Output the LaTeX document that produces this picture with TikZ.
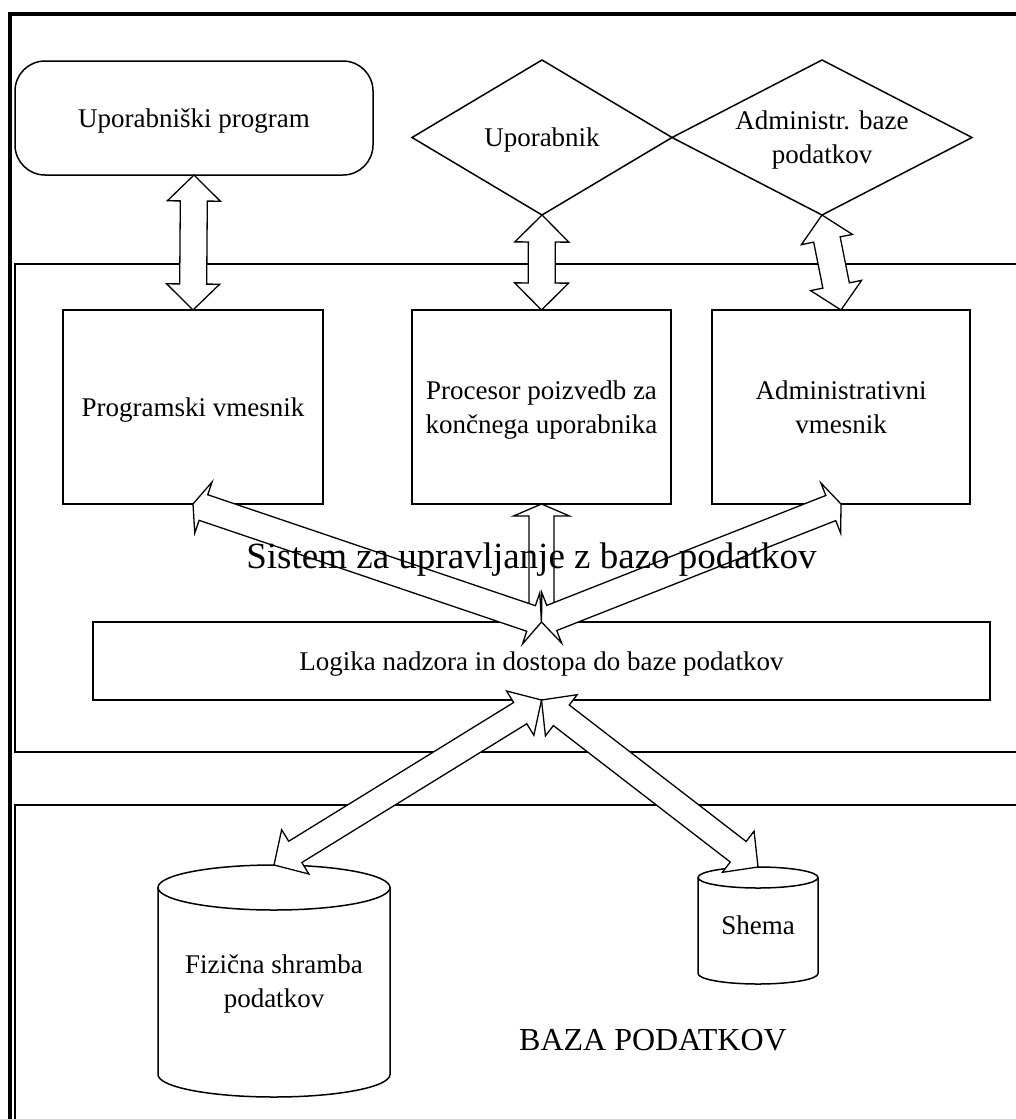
\documentclass[tikz,border=0pt]{standalone}
\usepackage{fontspec}
\setmainfont{Liberation Serif}
\usetikzlibrary{calc,shapes.geometric}

\newcommand{\txtnorm}{\fontsize{27}{34}\selectfont}
\newcommand{\txtsys}{\fontsize{37}{44}\selectfont}
\newcommand{\txtdb}{\fontsize{32}{38}\selectfont}

% Block arrow with a head at both ends:
% #1 start, #2 end, #3 shaft half-width, #4 head length, #5 head half-width
\newcommand{\fatarrow}[5]{%
  \path (#1) coordinate (fa-s) (#2) coordinate (fa-e);
  \path ($(fa-s)!#4!(fa-e)$) coordinate (fa-b1)
        ($(fa-e)!#4!(fa-s)$) coordinate (fa-b2);
  \draw[arrowbody] (fa-s)
    -- ($(fa-b1)!#5!90:(fa-e)$)
    -- ($(fa-b1)!#3!90:(fa-e)$)
    -- ($(fa-b2)!#3!-90:(fa-s)$)
    -- ($(fa-b2)!#5!-90:(fa-s)$)
    -- (fa-e)
    -- ($(fa-b2)!#5!90:(fa-s)$)
    -- ($(fa-b2)!#3!90:(fa-s)$)
    -- ($(fa-b1)!#3!-90:(fa-e)$)
    -- ($(fa-b1)!#5!-90:(fa-e)$)
    -- cycle;
}

% Upright cylinder around a node: #1 node name, #2 x radius, #3 y radius of the lids
\newcommand{\cylinderaround}[3]{%
  \draw[cylline] ($(#1.north west)+(0,#3)$) -- ($(#1.south west)-(0,#3)$)
    arc[start angle=180, end angle=360, x radius=#2, y radius=#3pt]
    -- ($(#1.north east)+(0,#3)$);
  \draw[cylline] ($(#1.north)+(0,#3)$) ellipse[x radius=#2, y radius=#3pt];
}

\tikzset{
  frameline/.style={line width=3.5pt},
  panel/.style={line width=1.5pt},
  box/.style={draw, line width=1.5pt, inner sep=0pt, outer sep=0pt,
              align=center, font=\txtnorm, text depth=0pt},
  rbox/.style={box, rounded corners=30pt},
  diam/.style={box, diamond, aspect=2},
  cyllabel/.style={inner sep=0pt, outer sep=0pt, align=center, font=\txtnorm, text depth=0pt},
  cylline/.style={line width=1.5pt},
  arrowbody/.style={draw, fill=white, line width=1.3pt, line join=miter},
}

\begin{document}
\begin{tikzpicture}[x=1pt, y=-1pt]
  \useasboundingbox (0,0) rectangle (1016,1119);
  \fill[white] (0,0) rectangle (1016,1119);
  \clip (0,0) rectangle (1016,1119);

  % outer frame and the two regions
  \draw[frameline] (10,1140) -- (10,14) -- (1040,14);
  \draw[panel] (15,264) rectangle (1040,752);
  \draw[panel] (15,805) rectangle (1040,1140);

  % users
  \node[rbox, minimum width=358pt, minimum height=114pt] (uprog) at (194,118) {Uporabniški program};
  \node[diam, minimum width=260pt, minimum height=155pt] (upor) at (542,137.5) {Uporabnik};
  \node[diam, minimum width=300pt, minimum height=155pt] (admin) at (822,137.5) {Administr. baze\\podatkov};

  % DBMS components
  \node[box, minimum width=260pt, minimum height=194pt] (prog) at (193,407) {Programski vmesnik};
  \node[box, minimum width=259pt, minimum height=194pt] (proc) at (541.5,407) {Procesor poizvedb za\\končnega uporabnika};
  \node[box, minimum width=258pt, minimum height=194pt] (admbox) at (841,407) {Administrativni\\vmesnik};
  \node[box, minimum width=897pt, minimum height=78pt] (logika) at (541.5,661) {Logika nadzora in dostopa do baze podatkov};

  % database storage
  \node[cyllabel, minimum width=232pt, minimum height=232pt] (fiz) at (274,981) {Fizična shramba\\podatkov};
  \cylinderaround{fiz}{116pt}{22.5}
  \node[cyllabel, minimum width=120pt, minimum height=117pt] (shema) at (758,925.5) {Shema};
  \cylinderaround{shema}{60pt}{10.5}

  % connections
  \fatarrow{uprog.south}{prog.north}{13.5pt}{26pt}{26.5pt}
  \fatarrow{upor.south}{proc.north}{13.5pt}{27pt}{27pt}
  \fatarrow{admin.south}{admbox.north}{13.5pt}{25pt}{26pt}
  \fatarrow{proc.south}{logika.north}{12.5pt}{12pt}{28pt}
  \fatarrow{logika.north}{prog.south}{13.5pt}{11pt}{27pt}
  \fatarrow{logika.north}{admbox.south}{13.5pt}{11pt}{27pt}
  \fatarrow{logika.south}{fiz.north}{12.5pt}{25pt}{26pt}
  \fatarrow{logika.south}{shema.north}{13pt}{25pt}{26pt}

  % region titles
  \node[anchor=base, inner sep=0pt, font=\txtsys] (systitle) at (531.5,568) {Sistem za upravljanje z bazo podatkov};
  \node[anchor=base, inner sep=0pt, font=\txtdb] (dbtitle) at (653,1050) {BAZA PODATKOV};
\end{tikzpicture}
\end{document}
